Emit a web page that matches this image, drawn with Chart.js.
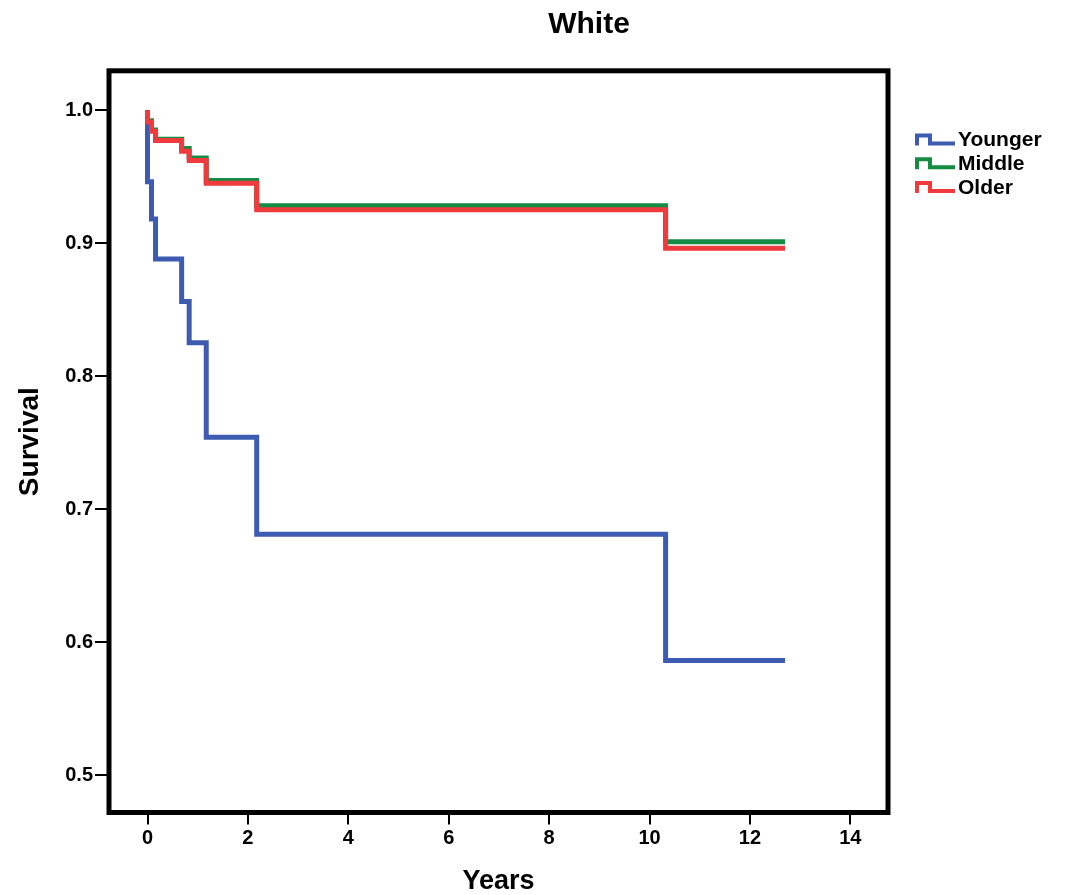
<!DOCTYPE html>
<html>
<head>
<meta charset="utf-8">
<script src="https://cdn.jsdelivr.net/npm/chart.js@4"></script>
<style>
body{margin:0;background:#fff}
</style>
</head>
<body>
<canvas id="chart" width="1068" height="895"></canvas>
<script>

const groups=["Younger","Middle","Older"]
const colors=["#3d5bb1","#168b44","#ef3a3e"]

const stepYears=[0,0,0.08,0.16,0.68,0.83,1.17,2.175,10.32,12.7]
const younger=[1.0,0.946,0.918,0.888,0.856,0.825,0.754,0.681,0.586,0.586]
const middle=[1.0,0.992,0.985,0.978,0.971,0.964,0.947,0.928,0.901,0.901]
const older=[1.0,0.991,0.984,0.977,0.969,0.962,0.945,0.925,0.896,0.896]

const xTicks=[0,2,4,6,8,10,12,14]
const yTicks=[0.5,0.6,0.7,0.8,0.9,1.0]

const FONT="'Liberation Sans', Arial, sans-serif"

function points(values){
return stepYears.map((t,i)=>({x:t,y:values[i]}))
}

const series=[younger,middle,older]

const datasets=series.map((s,i)=>({
label:groups[i],
data:points(s),
borderColor:colors[i],
borderWidth:5,
stepped:true,
pointRadius:0,
fill:false,
borderCapStyle:"butt",
borderJoinStyle:"miter",
order:2-i
}))

// frame, title and step-shaped legend
const extras={
id:"extras",
afterDraw(chart){

const ctx=chart.ctx
const a=chart.chartArea

ctx.save()
ctx.strokeStyle="#000"
ctx.lineWidth=5
ctx.lineJoin="miter"
ctx.strokeRect(a.left,a.top,a.right-a.left,a.bottom-a.top)

ctx.fillStyle="#000"
ctx.font="bold 30px "+FONT
ctx.textAlign="center"
ctx.textBaseline="alphabetic"
ctx.fillText("White",589,33)

ctx.font="bold 21px "+FONT
ctx.textAlign="left"
ctx.textBaseline="middle"
ctx.lineWidth=4
groups.forEach((g,i)=>{
const cy=139.5+i*23.7
ctx.strokeStyle=colors[i]
ctx.beginPath()
ctx.moveTo(917,cy+6)
ctx.lineTo(917,cy-4)
ctx.lineTo(930,cy-4)
ctx.lineTo(930,cy+4)
ctx.lineTo(955,cy+4)
ctx.stroke()
ctx.fillStyle="#000"
ctx.fillText(g,958,cy+1)
})

ctx.restore()

}
}

new Chart(document.getElementById("chart"),{
type:"line",
data:{datasets:datasets},
options:{
responsive:false,
animation:false,
layout:{padding:{left:0,top:70.8,right:180,bottom:0}},
plugins:{legend:{display:false},title:{display:false},tooltip:{enabled:false}},
scales:{
x:{
type:"linear",
min:-0.767,
max:14.75,
afterBuildTicks(scale){scale.ticks=xTicks.map(v=>({value:v}))},
afterFit(scale){scale.height=82.5},
grid:{display:true,drawOnChartArea:false,drawTicks:true,tickLength:12,color:"#000",lineWidth:2},
border:{display:false},
ticks:{color:"#000",font:{family:FONT,size:20,weight:"bold"},padding:2,maxRotation:0},
title:{display:true,text:"Years",color:"#000",font:{family:FONT,size:27,weight:"bold",lineHeight:1},padding:{top:0,bottom:0}}
},
y:{
type:"linear",
min:0.4718,
max:1.0295,
afterBuildTicks(scale){scale.ticks=yTicks.map(v=>({value:v}))},
afterFit(scale){scale.width=109},
grid:{display:true,drawOnChartArea:false,drawTicks:true,tickLength:14,color:"#000",lineWidth:2},
border:{display:false},
ticks:{color:"#000",font:{family:FONT,size:20,weight:"bold"},padding:2,callback:v=>v.toFixed(1)},
title:{display:true,text:"Survival",color:"#000",font:{family:FONT,size:28,weight:"bold",lineHeight:1},padding:{top:16,bottom:0}}
}
}
},
plugins:[extras]
})

</script>
</body>
</html>
